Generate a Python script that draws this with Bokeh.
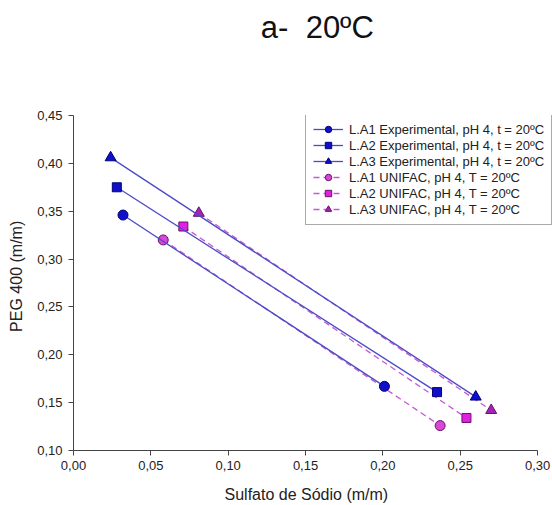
from bokeh.plotting import figure
from bokeh.layouts import column
from bokeh.models import Range1d, CustomJSTickFormatter, Legend, LegendItem, FixedTicker
from bokeh.core.properties import value
from bokeh.embed import file_html
from bokeh.resources import INLINE

# ---- data ----
title_text = "a-\u00a0 20ºC"
x_label = "Sulfato de Sódio (m/m)"
y_label = "PEG 400 (m/m)"

x_ticks = [0.00, 0.05, 0.10, 0.15, 0.20, 0.25, 0.30]
y_ticks = [0.10, 0.15, 0.20, 0.25, 0.30, 0.35, 0.40, 0.45]

exp_names = ["L.A1 Experimental, pH 4, t = 20ºC",
             "L.A2 Experimental, pH 4, t = 20ºC",
             "L.A3 Experimental, pH 4, t = 20ºC"]
uni_names = ["L.A1 UNIFAC, pH 4, T = 20ºC",
             "L.A2 UNIFAC, pH 4, T = 20ºC",
             "L.A3 UNIFAC, pH 4, T = 20ºC"]

x_exp1 = [0.032, 0.201]
y_exp1 = [0.346, 0.167]
x_exp2 = [0.028, 0.235]
y_exp2 = [0.375, 0.161]
x_exp3 = [0.024, 0.260]
y_exp3 = [0.406, 0.156]

x_uni1 = [0.058, 0.237]
y_uni1 = [0.320, 0.126]
x_uni2 = [0.071, 0.254]
y_uni2 = [0.334, 0.134]
x_uni3 = [0.081, 0.270]
y_uni3 = [0.348, 0.142]

FONT = "Liberation Sans"

# ---- title strip (separate small figure in pixel coordinates) ----
TITLE_H = 60
t = figure(width=552, height=TITLE_H, output_backend="svg", toolbar_location=None,
           x_range=Range1d(0, 552), y_range=Range1d(0, TITLE_H),
           x_axis_location=None, y_axis_location=None,
           min_border=0, min_border_left=0, min_border_right=0,
           min_border_top=0, min_border_bottom=0)
t.grid.visible = False
t.outline_line_color = None
t.border_fill_color = "white"
t.text(x=[281], y=[TITLE_H - 27], text=[title_text], text_font=value(FONT),
       text_font_size="31px", text_align="center", text_baseline="middle",
       text_color="#111111")

# ---- main chart ----
# frame spans to the right edge so the legend is not clipped; x axis bounded to 0..0.30.
X_PX_PER_UNIT = 1547.0
x_end = (552 - 73) / X_PX_PER_UNIT

p = figure(width=552, height=505 - TITLE_H, output_backend="svg", toolbar_location=None,
           x_range=Range1d(0, x_end), y_range=Range1d(0.10, 0.45),
           min_border_left=73, min_border_right=0, min_border_top=115 - TITLE_H,
           min_border_bottom=54)
p.outline_line_color = None
p.xgrid.visible = False
p.ygrid.visible = False
p.background_fill_color = "white"
p.border_fill_color = "white"

fmt = CustomJSTickFormatter(code="return tick.toFixed(2).replace('.', ',');")
for ax, ticks, lab, bnds in ((p.xaxis[0], x_ticks, x_label + "\u00a0\u00a0\u00a0", (0.0, 0.30)),
                             (p.yaxis[0], y_ticks, "\u00a0\u00a0\u00a0" + y_label, (0.10, 0.45))):
    ax.ticker = FixedTicker(ticks=ticks)
    ax.formatter = fmt
    ax.bounds = bnds
    ax.minor_tick_line_color = None
    ax.major_tick_in = 0
    ax.major_tick_out = 5
    ax.axis_line_color = "#444444"
    ax.major_tick_line_color = "#444444"
    ax.major_label_text_font = FONT
    ax.major_label_text_font_size = "13px"
    ax.major_label_text_color = "#222222"
    ax.axis_label = lab
    ax.axis_label_text_font = FONT
    ax.axis_label_text_font_size = "16px"
    ax.axis_label_text_font_style = "normal"
    ax.axis_label_text_color = "#222222"
p.xaxis[0].axis_label_standoff = 13
p.yaxis[0].axis_label_standoff = 9
p.yaxis[0].major_label_standoff = 6

exp_line = "#4B4BC8"
exp_fill = "#1010C8"
exp_edge = "#00007A"
uni_line = "#C45AD2"
uni_fills = ["#D848D8", "#E020E0", "#A424B4"]
uni_edge = "#6A106A"
markers = ["circle", "square", "triangle"]
sizes = [10, 9, 11]

items = []
exp_data = [(x_exp1, y_exp1), (x_exp2, y_exp2), (x_exp3, y_exp3)]
uni_data = [(x_uni1, y_uni1), (x_uni2, y_uni2), (x_uni3, y_uni3)]

uni_renderers = []
for (xs, ys), fill, m, s, name in zip(uni_data, uni_fills, markers, sizes, uni_names):
    l = p.line(xs, ys, line_color=uni_line, line_width=1.3, line_dash="6 4")
    sc = p.scatter(xs, ys, marker=m, size=s, fill_color=fill, line_color=uni_edge, line_width=1)
    uni_renderers.append((name, [l, sc]))

exp_renderers = []
for (xs, ys), m, s, name in zip(exp_data, markers, sizes, exp_names):
    l = p.line(xs, ys, line_color=exp_line, line_width=1.3)
    sc = p.scatter(xs, ys, marker=m, size=s, fill_color=exp_fill, line_color=exp_edge, line_width=1)
    exp_renderers.append((name, [l, sc]))

for name, rs in exp_renderers + uni_renderers:
    items.append(LegendItem(label=name, renderers=rs))

legend = Legend(items=items, location=(232, 225), orientation="vertical",
                label_text_font=FONT, label_text_font_size="13px", label_text_color="#222222",
                glyph_width=30, glyph_height=16, label_height=16, label_standoff=6,
                spacing=0, padding=7, margin=0,
                border_line_color="#555555", border_line_width=1,
                background_fill_color="white", background_fill_alpha=1.0)
p.add_layout(legend, "center")

layout = column(t, p, spacing=0)
open("out.html", "w").write(file_html(layout, INLINE))
